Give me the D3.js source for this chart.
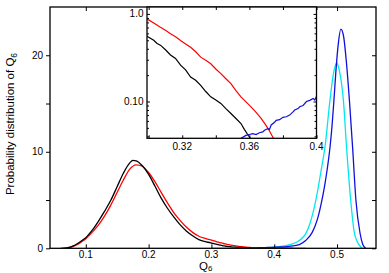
<!DOCTYPE html>
<html>
    <head>
        <meta charset=utf-8>
        <title>Q6 distribution</title>
        <style>
body { margin: 0; background: #fff; }
svg { display: block; font-family: "Liberation Sans", Arial, sans-serif; }
        </style>
    </head>
    <body>
        <div id="chart"></div>
        <script src="https://d3js.org/d3.v7.min.js"></script>
        <script>
            // curves, [Q6, P(Q6)]
            const blackCurve = [[0.060,0],[0.065,0.01],[0.07,0.05],[0.075,0.12],[0.08,0.25],[0.085,0.42],[0.09,0.62],[0.095,0.85],
                [0.10,1.1],[0.11,1.85],[0.12,2.8],[0.13,3.85],[0.14,5.0],[0.15,6.4],[0.16,7.8],[0.17,8.85],[0.175,9.1],[0.18,9.05],
                [0.19,8.55],[0.20,7.65],[0.21,6.45],[0.22,5.2],[0.23,4.15],[0.24,3.25],[0.25,2.45],[0.26,1.8],[0.27,1.3],[0.28,0.9],
                [0.29,0.68],[0.299,0.56],[0.30,0.54],[0.303,0.5],[0.305,0.46],[0.307,0.44],[0.310,0.39],[0.313,0.34],[0.316,0.31],
                [0.319,0.26],[0.322,0.23],[0.325,0.19],[0.328,0.175],[0.331,0.153],[0.334,0.13],[0.337,0.113],[0.340,0.104],
                [0.343,0.095],[0.346,0.083],[0.349,0.073],[0.352,0.064],[0.355,0.056],[0.357,0.048],[0.359,0.042],[0.361,0.037],
                [0.37,0.02],[0.38,0.01],[0.40,0.003],[0.43,0]]
            const redCurve = [[0.065,0],[0.07,0.03],[0.075,0.09],[0.08,0.2],[0.085,0.34],[0.09,0.52],[0.095,0.75],[0.10,1.0],
                [0.11,1.65],[0.12,2.4],[0.13,3.35],[0.14,4.5],[0.15,5.8],[0.16,7.1],[0.17,8.2],[0.18,8.65],[0.19,8.5],[0.20,7.85],
                [0.21,6.9],[0.22,5.8],[0.23,4.7],[0.24,3.7],[0.25,2.9],[0.26,2.2],[0.27,1.65],[0.28,1.25],[0.29,1.02],[0.299,0.87],
                [0.30,0.855],[0.303,0.79],[0.307,0.705],[0.310,0.65],[0.313,0.593],[0.316,0.55],[0.319,0.497],[0.322,0.455],
                [0.325,0.417],[0.328,0.37],[0.331,0.321],[0.334,0.295],[0.337,0.27],[0.340,0.235],[0.343,0.208],[0.346,0.182],
                [0.349,0.16],[0.352,0.133],[0.355,0.113],[0.358,0.099],[0.361,0.087],[0.364,0.075],[0.367,0.064],[0.370,0.053],
                [0.372,0.046],[0.374,0.039],[0.376,0.034],[0.38,0.027],[0.39,0.014],[0.40,0.007],[0.42,0.002],[0.45,0]]
            const cyanCurve = [[0.30,0],[0.35,0.01],[0.38,0.04],[0.40,0.12],[0.42,0.3],[0.441,0.86],[0.45,1.5],[0.457,2.6],
                [0.465,4.6],[0.47,6.3],[0.475,8.2],[0.481,10.6],[0.4888,15.4],[0.494,18.0],[0.4995,19.2],[0.504,18.3],
                [0.51,15.4],[0.5154,10.2],[0.5217,5.0],[0.527,1.8],[0.532,0.7],[0.537,0.2],[0.54,0]]
            const blueCurve = [[0.33,0],[0.355,0.038],[0.358,0.041],[0.360,0.042],[0.362,0.043],[0.364,0.042],[0.366,0.044],
                [0.368,0.045],[0.369,0.047],[0.371,0.049],[0.372,0.048],[0.373,0.054],[0.375,0.058],[0.376,0.061],[0.378,0.062],
                [0.380,0.066],[0.382,0.067],[0.384,0.07],[0.386,0.076],[0.387,0.08],[0.389,0.083],[0.390,0.087],[0.392,0.09],
                [0.394,0.1],[0.396,0.103],[0.398,0.108],[0.399,0.104],[0.400,0.115],[0.401,0.123],[0.42,0.18],[0.43,0.25],
                [0.44,0.38],[0.45,0.8],[0.46,1.6],[0.465,2.3],[0.47,3.3],[0.475,4.7],[0.48,6.4],[0.485,8.5],[0.489,10.6],
                [0.492,12.7],[0.495,15.3],[0.498,18.2],[0.502,21.2],[0.506,22.7],[0.51,22.1],[0.515,19.2],[0.5196,15.4],
                [0.525,10.2],[0.53,5.0],[0.5366,1.56],[0.541,0.4],[0.5456,0]]

            const xTicks = [0.1, 0.2, 0.3, 0.4, 0.5]
            const yTicks = [0, 5, 10, 15, 20]
            const yLabels = [0, 10, 20]
            const insetXTicks = [0.30, 0.32, 0.34, 0.36, 0.38, 0.40]
            const insetXLabels = [0.32, 0.36, 0.40]
            const insetYMajor = [0.1, 1.0]
            const insetYMinor = [0.04, 0.05, 0.06, 0.07, 0.08, 0.09, 0.2, 0.3, 0.4, 0.5, 0.6, 0.7, 0.8, 0.9]

            const width = 389
            const height = 273

            const svg = d3.select("#chart").append("svg")
                .attr("width", width)
                .attr("height", height)

            const x = d3.scaleLinear().domain([0.043, 0.562]).range([50, 376])
            const y = d3.scaleLinear().domain([0, 25]).range([248.3, 7])

            const line = d3.line()
                .x(d => x(d[0]))
                .y(d => y(d[1]))
                .curve(d3.curveMonotoneX)

            const series = [
                {data: redCurve, color: "#ff0000"},
                {data: blackCurve, color: "#000000"},
                {data: cyanCurve, color: "#00e8ee"},
                {data: blueCurve, color: "#1010dd"}
            ]

            svg.append("defs").append("clipPath").attr("id", "mainclip")
                .append("rect")
                .attr("x", 50).attr("y", 7).attr("width", 326).attr("height", 241.3)

            svg.append("g").attr("clip-path", "url(#mainclip)")
                .selectAll("path")
                .data(series)
                .join("path")
                .attr("d", d => line(d.data))
                .style("fill", "none")
                .style("stroke", d => d.color)
                .style("stroke-width", 1.3)

            // main axes: left ticks outside, the rest inside
            const axes = svg.append("g").style("font-size", "10px")
            axes.append("g").attr("transform", "translate(50,0)")
                .call(d3.axisLeft(y).tickValues(yTicks).tickSize(4).tickFormat(d => yLabels.includes(d) ? d : ""))
            axes.append("g").attr("transform", "translate(376,0)")
                .call(d3.axisLeft(y).tickValues(yTicks).tickSize(4).tickFormat(""))
            axes.append("g").attr("transform", "translate(0,248.3)")
                .call(d3.axisTop(x).tickValues(xTicks).tickSize(4).tickFormat(""))
            axes.append("g").attr("transform", "translate(0,7)")
                .call(d3.axisBottom(x).tickValues(xTicks).tickSize(4).tickFormat(""))
            axes.selectAll(".domain").remove()
            axes.selectAll("text").style("font-family", "Liberation Sans, Arial, sans-serif").style("fill", "#000")
            axes.selectAll("line").style("stroke", "#000")

            axes.append("g").selectAll("text")
                .data(xTicks)
                .join("text")
                .attr("x", d => x(d))
                .attr("y", 258)
                .attr("text-anchor", "middle")
                .text(d => d3.format(".1f")(d))

            svg.append("rect")
                .attr("x", 50).attr("y", 7).attr("width", 326).attr("height", 241.3)
                .style("fill", "none").style("stroke", "#000").style("stroke-width", 1.3)

            // axis titles
            const ytitle = svg.append("text")
                .attr("transform", "translate(14,124) rotate(-90)")
                .attr("text-anchor", "middle")
                .style("font-size", "11.5px")
            ytitle.append("tspan").text("Probability distribution of Q")
            ytitle.append("tspan").attr("dy", 3).style("font-size", "8.5px").text("6")

            const xtitle = svg.append("text")
                .attr("x", 199)
                .attr("y", 269.5)
                .style("font-size", "11.5px")
            xtitle.append("tspan").text("Q")
            xtitle.append("tspan").attr("dy", 1.5).style("font-size", "8px").text("6")

            // inset
            const xi = d3.scaleLinear().domain([0.299, 0.4]).range([147, 316.5])
            const yi = d3.scaleLog().domain([0.038, 1.2]).range([138.3, 7])

            const inset = svg.append("g")
            inset.append("rect")
                .attr("x", 147).attr("y", 7).attr("width", 169.5).attr("height", 131.3)
                .style("fill", "#fff")

            svg.select("defs").append("clipPath").attr("id", "insetclip")
                .append("rect")
                .attr("x", 147).attr("y", 7).attr("width", 169.5).attr("height", 131.3)

            const lineInset = d3.line()
                .x(d => xi(d[0]))
                .y(d => yi(d[1]))

            const insetSeries = [
                {data: blackCurve, color: "#000000"},
                {data: redCurve, color: "#ff0000"},
                {data: blueCurve, color: "#1010dd"}
            ]

            inset.append("g").attr("clip-path", "url(#insetclip)")
                .selectAll("path")
                .data(insetSeries)
                .join("path")
                .attr("d", d => lineInset(d.data.filter(p => p[1] > 0.02 && p[0] > 0.295 && p[0] < 0.405)))
                .style("fill", "none")
                .style("stroke", d => d.color)
                .style("stroke-width", 1.2)

            const iaxes = inset.append("g").style("font-size", "10px")
            iaxes.append("g").attr("transform", "translate(147,0)")
                .call(d3.axisRight(yi).tickValues(insetYMajor).tickSize(3).tickFormat(""))
            iaxes.append("g").attr("transform", "translate(147,0)")
                .call(d3.axisRight(yi).tickValues(insetYMinor).tickSize(2).tickFormat(""))
            iaxes.append("g").attr("transform", "translate(316.5,0)")
                .call(d3.axisLeft(yi).tickValues(insetYMajor).tickSize(3).tickFormat(""))
            iaxes.append("g").attr("transform", "translate(316.5,0)")
                .call(d3.axisLeft(yi).tickValues(insetYMinor).tickSize(2).tickFormat(""))
            iaxes.append("g").attr("transform", "translate(0,138.3)")
                .call(d3.axisTop(xi).tickValues(insetXTicks).tickSize(3).tickFormat(""))
            iaxes.append("g").attr("transform", "translate(0,7)")
                .call(d3.axisBottom(xi).tickValues(insetXTicks).tickSize(3).tickFormat(""))
            iaxes.selectAll(".domain").remove()
            iaxes.selectAll("line").style("stroke", "#000")

            iaxes.append("g").selectAll("text")
                .data(insetXLabels)
                .join("text")
                .attr("x", d => xi(d))
                .attr("y", 149.5)
                .attr("text-anchor", "middle")
                .text(d => d == 0.4 ? "0.4" : d3.format(".2f")(d))

            iaxes.append("g").selectAll("text")
                .data(insetYMajor)
                .join("text")
                .attr("x", 143.5)
                .attr("y", d => yi(d))
                .attr("dy", "0.35em")
                .attr("text-anchor", "end")
                .text(d => d == 1 ? "1.0" : "0.10")

            inset.append("rect")
                .attr("x", 147).attr("y", 7).attr("width", 169.5).attr("height", 131.3)
                .style("fill", "none").style("stroke", "#000").style("stroke-width", 1.3)
        </script>
    </body>
</html>
